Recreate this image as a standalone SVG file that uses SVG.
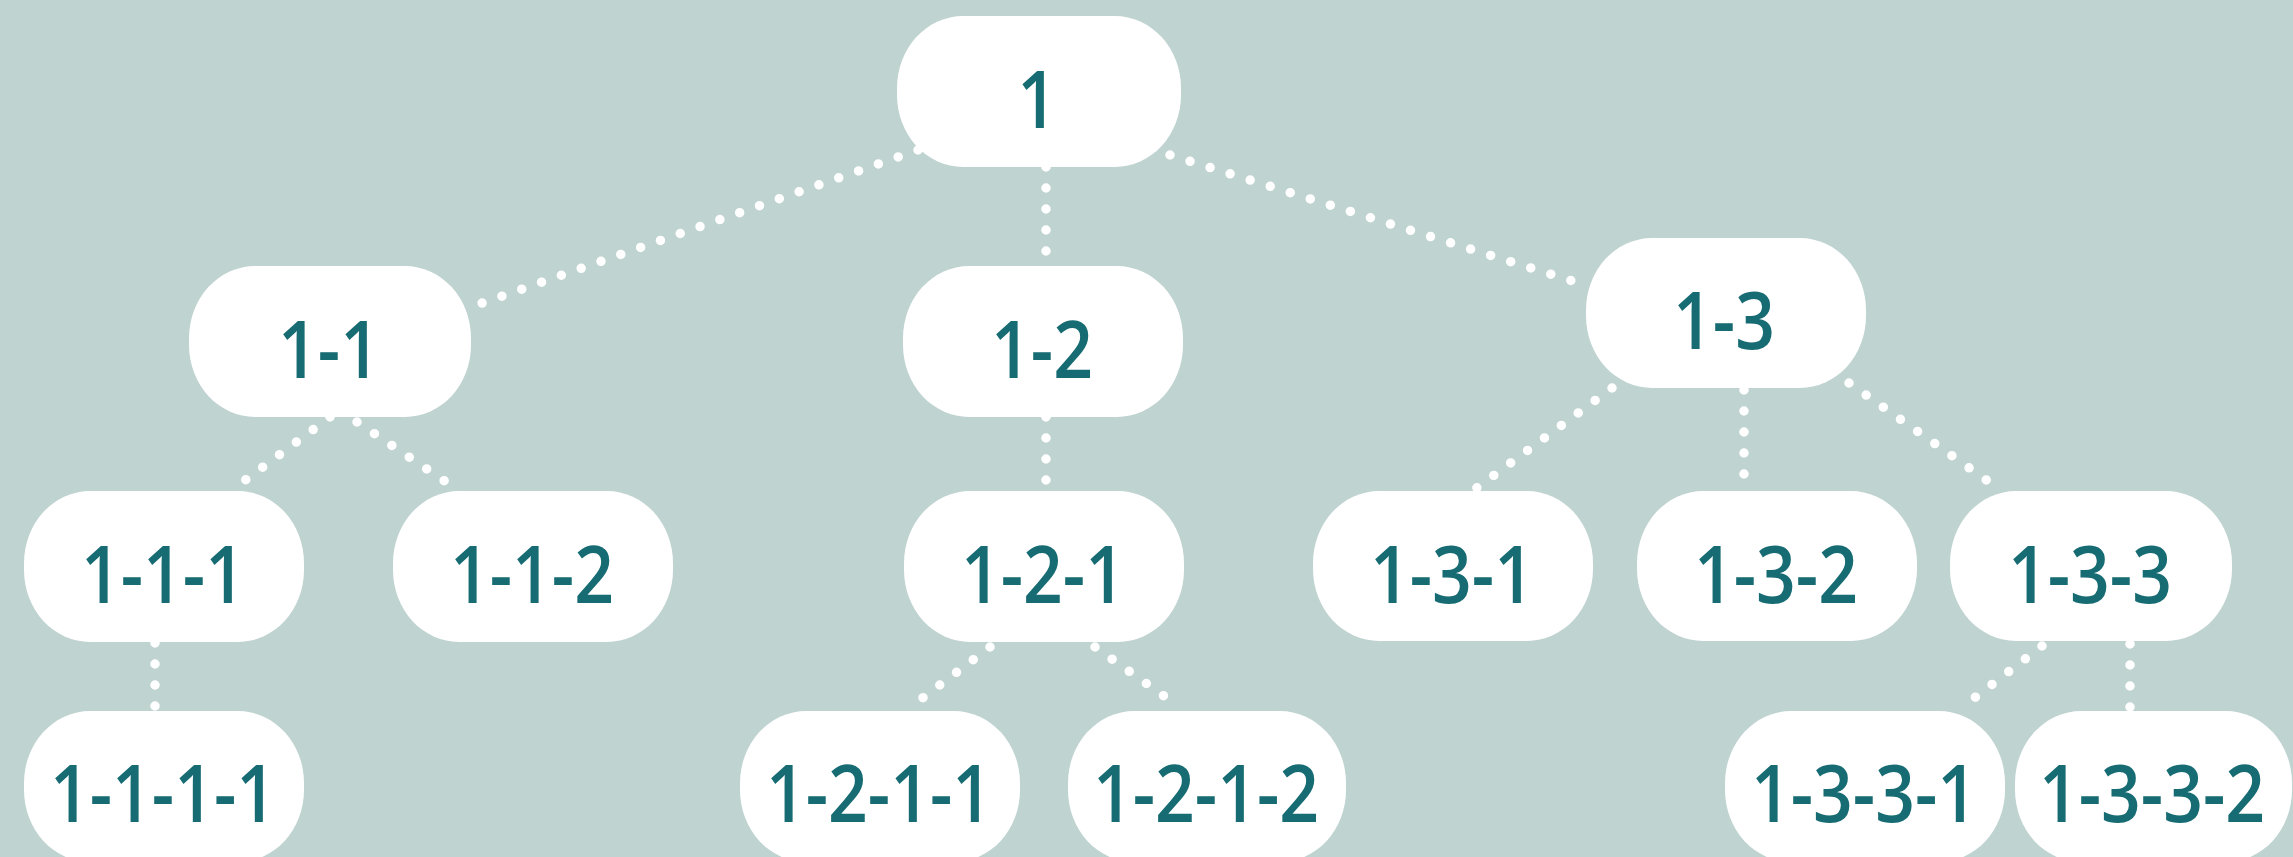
<svg xmlns="http://www.w3.org/2000/svg" width="2293" height="857" viewBox="0 0 2293 857">
<style>
.bg{fill:#bfd3d0}
.node rect{fill:#ffffff}
.node text{font-family:"Open Sans","Noto Sans","Liberation Sans",sans-serif;font-weight:600;font-size:79px;fill:#176c73;text-anchor:middle}
.conn line{stroke:#ffffff;stroke-width:9.5;stroke-linecap:round;stroke-dasharray:0 21;fill:none}
</style>
<rect class="bg" x="0" y="0" width="2293" height="857"/>
<g id="connectors" class="conn">
<line x1="918" y1="150" x2="471" y2="307"/>
<line x1="1046" y1="167" x2="1046" y2="266"/>
<line x1="1170" y1="155" x2="1582" y2="284"/>
<line x1="330" y1="417" x2="232" y2="490"/>
<line x1="357" y1="422" x2="458" y2="490"/>
<line x1="155" y1="643" x2="155" y2="711"/>
<line x1="1046" y1="417" x2="1046" y2="491"/>
<line x1="990" y1="647" x2="912" y2="706"/>
<line x1="1095" y1="647" x2="1178" y2="706"/>
<line x1="1612" y1="388" x2="1474" y2="490"/>
<line x1="1744" y1="390" x2="1744" y2="491"/>
<line x1="1849" y1="383" x2="1992" y2="484"/>
<line x1="2042" y1="646" x2="1964" y2="706"/>
<line x1="2130" y1="644" x2="2130" y2="711"/>
</g>
<g id="n1" class="node"><rect x="897" y="16" width="284" height="151" rx="66" ry="72"/><text transform="translate(1037 128) scale(0.88 1)">1</text></g>
<g id="n1-1" class="node"><rect x="189" y="266" width="282" height="151" rx="66" ry="72"/><text transform="translate(329 378) scale(0.88 1)">1-1</text></g>
<g id="n1-2" class="node"><rect x="903" y="266" width="280" height="151" rx="66" ry="72"/><text transform="translate(1042 378) scale(0.88 1)">1-2</text></g>
<g id="n1-3" class="node"><rect x="1586" y="238" width="280" height="150" rx="66" ry="72"/><text transform="translate(1724 349) scale(0.88 1)">1-3</text></g>
<g id="n1-1-1" class="node"><rect x="24" y="491" width="280" height="151" rx="66" ry="72"/><text transform="translate(163 603) scale(0.88 1)">1-1-1</text></g>
<g id="n1-1-2" class="node"><rect x="393" y="491" width="280" height="151" rx="66" ry="72"/><text transform="translate(532 603) scale(0.88 1)">1-1-2</text></g>
<g id="n1-2-1" class="node"><rect x="904" y="491" width="280" height="151" rx="66" ry="72"/><text transform="translate(1043 603) scale(0.88 1)">1-2-1</text></g>
<g id="n1-3-1" class="node"><rect x="1313" y="491" width="280" height="150" rx="66" ry="72"/><text transform="translate(1452 603) scale(0.88 1)">1-3-1</text></g>
<g id="n1-3-2" class="node"><rect x="1637" y="491" width="280" height="150" rx="66" ry="72"/><text transform="translate(1776 603) scale(0.88 1)">1-3-2</text></g>
<g id="n1-3-3" class="node"><rect x="1950" y="491" width="282" height="150" rx="66" ry="72"/><text transform="translate(2090 603) scale(0.88 1)">1-3-3</text></g>
<g id="n1-1-1-1" class="node"><rect x="24" y="711" width="280" height="151" rx="66" ry="72"/><text transform="translate(163 822) scale(0.88 1)">1-1-1-1</text></g>
<g id="n1-2-1-1" class="node"><rect x="740" y="711" width="280" height="151" rx="66" ry="72"/><text transform="translate(879 822) scale(0.88 1)">1-2-1-1</text></g>
<g id="n1-2-1-2" class="node"><rect x="1068" y="711" width="278" height="151" rx="66" ry="72"/><text transform="translate(1206 822) scale(0.88 1)">1-2-1-2</text></g>
<g id="n1-3-3-1" class="node"><rect x="1725" y="711" width="280" height="151" rx="66" ry="72"/><text transform="translate(1864 822) scale(0.88 1)">1-3-3-1</text></g>
<g id="n1-3-3-2" class="node"><rect x="2015" y="711" width="277" height="151" rx="66" ry="72"/><text transform="translate(2152 822) scale(0.88 1)">1-3-3-2</text></g>
</svg>
